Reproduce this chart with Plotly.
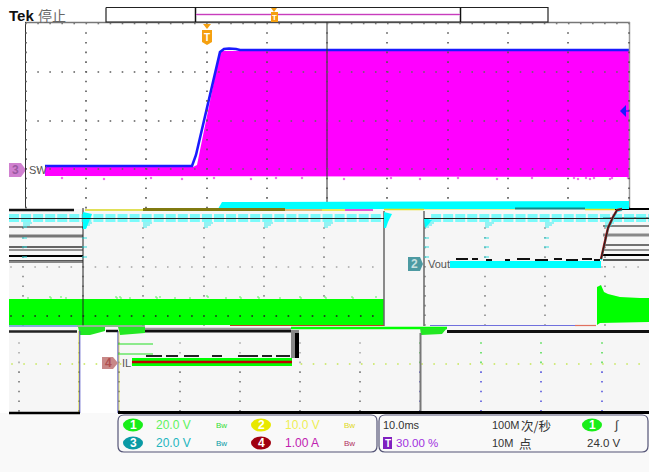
import numpy as np
import plotly.graph_objects as go

# ---- Data (screen-scaled scope coordinates) ----
sw_fill_x = [45, 193, 197, 220, 222, 629, 629, 45]
sw_fill_y = [167, 167, 165, 52, 51, 51, 177, 176]
sw_edge_x = [45, 192, 196, 220, 224, 229, 236, 240, 300, 629]
sw_edge_y = [166, 166, 155, 52, 49, 48.5, 49, 50, 50, 50]
sw_spike_x = [62, 104, 151, 182, 214, 251, 276, 302, 344, 391, 420, 458, 497, 532, 574, 578, 586, 590, 594, 610, 612, 628]
sw_spike_y = [178, 179, 178, 179, 178, 179, 178, 178, 179, 178, 179, 178, 179, 178, 178, 179, 178, 179, 178, 179, 178, 178]

cyan_top_x = [218, 222, 629, 629, 218]
cyan_top_y = [209, 202, 201, 209, 209]
cyan_vout_x = [450, 601, 601, 450]
cyan_vout_y = [261, 261, 268, 268]
vout_noise_x = [456, 468, None, 472, 478, None, 486, 492, None, 505, 510, None, 517, 530, None, 535, 548, None, 554, 562, None, 566, 578, None, 582, 592, None, 594, 600]
vout_noise_y = [259, 259, None, 259, 259, None, 260, 260, None, 260, 260, None, 259, 259, None, 260, 260, None, 259, 259, None, 260, 260, None, 259, 259, None, 260, 260]
ramp_x = [601, 608, 613, 617, 622]
ramp_y = [259, 228, 217, 210, 209]

green_band_x = [9, 384, 384, 9]
green_band_y = [299, 299, 325, 325]
green_spike_x = [28, 50, 51, 61, 66, 116, 117, 120, 121, 130, 156, 157, 160, 175, 190, 207, 208, 226, 240, 241, 258, 259, 280, 300, 301, 325, 326, 352, 353, 376]
green_spike_h = [298, 297, 298, 297, 298, 297, 298, 297, 298, 298, 297, 298, 297, 298, 298, 296, 297, 298, 297, 298, 297, 298, 298, 297, 298, 297, 298, 297, 298, 297]
green_tail_x = [597, 597, 601, 604, 608, 620, 640, 649, 649, 600]
green_tail_y = [325, 287, 285, 292, 294, 297, 298, 298, 322, 323]

il_x = [132, 292]
il_top = [358, 358]
il_bottom = [366, 366]
il_center = [362, 362]
il_noise_x = [146, 162, None, 166, 178, None, 184, 199, None, 212, 222, None, 238, 258, None, 262, 272, None, 276, 290]
il_noise_y = [356, 356, None, 356, 356, None, 356, 356, None, 356, 356, None, 356, 356, None, 356, 356, None, 356, 356]

left_levels = [227, 236, 247, 250, 256, 261, 262]
left_widths = [1, 3, 1.5, 1, 2, 1.5, 2]
left_colors = ["#111", "#777", "#333", "#333", "#000", "#222", "#888"]
right_levels = [209, 218, 226, 235, 245, 250, 255, 260]
right_widths = [2, 1, 1, 3, 1.5, 1, 2, 1.5]
right_colors = ["#000", "#222", "#111", "#888", "#444", "#333", "#000", "#222"]

# Grid positions of the three zones
mid_grid_x = [23, 83, 143, 204, 264, 324, 384, 425, 485, 545, 605]
low_grid_x = [19, 79, 119, 180, 240, 300, 360, 420, 481, 541, 602]

# Read-out text
readout_left = [("20.0 V", 173, 425, "#5ef25e"), ("10.0 V", 302, 425, "#eeee55"),
                ("20.0 V", 173, 443, "#22b5c0"), ("1.00 A", 302, 443, "#c020b0")]
chips = [("1", 133, 425, "#19ee19"), ("2", 261, 425, "#e8e800"),
         ("3", 133, 443, "#0a9aa5"), ("4", 261, 443, "#a00010")]
bw_marks = [(221, 425, "#33dd33"), (349, 425, "#e0d820"),
            (221, 443, "#0a9aa5"), (349, 443, "#b03060")]

SCREEN = "#f6f6f6"
MAG = "#ff00ff"
GREEN = "#00ff00"
CYAN = "#00ffff"
fig = go.Figure()

def poly(x, y, c):
    fig.add_trace(go.Scatter(x=x, y=y, fill="toself", fillcolor=c, mode="lines",
                             line=dict(width=0, color=c), hoverinfo="skip"))

def line(x, y, c, w=1):
    fig.add_trace(go.Scatter(x=x, y=y, mode="lines", line=dict(color=c, width=w), hoverinfo="skip"))

def dots(x, y, c, s=1.6):
    fig.add_trace(go.Scatter(x=list(x), y=list(y), mode="markers",
                             marker=dict(color=c, size=s, symbol="square", line=dict(width=0)), hoverinfo="skip"))

# page colour below the screen + screen panels
poly([0, 649, 649, 0], [413, 413, 472, 472], "#f9f9f9")
poly([9, 649, 649, 9], [209, 209, 331, 331], SCREEN)
poly([9, 79, 79, 9], [331, 331, 413, 413], SCREEN)
poly([118, 649, 649, 118], [331, 331, 413, 413], SCREEN)

# SW trace first so the graticule lies over it
dots(sw_spike_x, sw_spike_y, "#f070f0", 2.2)
poly(sw_fill_x, sw_fill_y, MAG)
line(sw_edge_x, sw_edge_y, "#1a1aff", 2.6)

# upper frame and graticule
line([25, 630], [22.5, 22.5], "#777", 1.5)
line([25.5, 25.5], [22, 208], "#333", 1)
line([629.5, 629.5], [22, 208], "#999", 1.5)
line([327, 327], [22, 208], "#333", 1)
ux = [26, 86, 146, 207, 267, 327, 387, 448, 508, 568, 629]
uy = [72, 121, 169]
ru = np.arange(33, 208, 9.7)
for gx in ux:
    dots([gx] * len(ru), ru, "#555")
rh = np.arange(26, 630, 12.06)
for gy in uy:
    dots(rh, [gy] * len(rh), "#666")
dots(rh, [23.5] * len(rh), "#777")

# lower graticule
for gx in mid_grid_x:
    if gx != 384:
        rv = np.arange(228, 326, 9.7)
        dots([gx] * len(rv), rv, "#888")
rv = np.arange(343, 413, 9.7)
for gx in low_grid_x:
    up = [v for v in rv if v < 365]
    dn = [v for v in rv if v >= 365]
    dots([gx] * len(up), up, "#55dd55" if gx > 400 else "#aaa")
    dots([gx] * len(dn), dn, "#5555dd" if gx > 400 else "#777")
rr = np.arange(11, 649, 12.06)
dots(rr, [267] * len(rr), "#aaa")

# green band and tail
dots(green_spike_x, green_spike_h, "#77ee77", 1.6)
poly(green_band_x, green_band_y, GREEN)
poly(green_tail_x, green_tail_y, GREEN)
rg = np.arange(11, 384, 12.06)
dots(rg, [316] * len(rg), "#222")
rg2 = [v for v in np.arange(12, 649, 12.06)]
dots(rg2, [364] * len(rg2), "#c8e860")

# box at 384-424
poly([384, 424, 424, 384], [211, 211, 326, 326], SCREEN)
line([384, 384], [211, 326], "#666", 1.5)
line([424, 424], [211, 326], "#666", 1.5)

# left/right multi-level black lines
for lv, w, c in zip(left_levels, left_widths, left_colors):
    line([9, 83], [lv, lv], c, w)
for lv, w, c in zip(right_levels, right_widths, right_colors):
    line([603, 649], [lv, lv], c, w)
line([83, 83], [208, 325], "#222", 1)

# cyan dash rows
for gy in [215, 217, 219, 221]:
    for sx in np.arange(9, 649, 12.06):
        if 380 <= sx <= 424:
            continue
        line([sx, sx + 10], [gy, gy], CYAN, 1)
for gx in mid_grid_x:
    if gx == 384:
        continue
    for gy, ext in [(223, 9), (225, 7), (227, 4)]:
        line([gx, gx + ext], [gy, gy], "#33eeee", 1)
for gx in [23, 83, 425, 485, 545]:
    for gy in [238, 247, 257]:
        if gx != 545 or gy < 250:
            line([gx - 1, gx + 4], [gy, gy], "#33dddd", 1)
poly([83, 92, 88, 86, 83], [212, 214, 224, 229, 229], CYAN)
poly([384, 392, 388, 386, 384], [212, 214, 222, 228, 228], CYAN)
poly([424, 432, 428, 425], [218, 220, 225, 228], CYAN)
line([9, 384, None, 424, 649], [218.5, 218.5, None, 218.5, 218.5], "#222", 1)

# top traces
poly(cyan_top_x, cyan_top_y, CYAN)
line([9, 74], [210, 210], "#111", 2.5)
line([85, 143], [210, 210], "#d8d820", 1.5)
line([143, 285], [209.5, 209.5], "#807a10", 3)
line([285, 322], [210, 210], "#d8a040", 1.5)
line([322, 345], [210, 210], "#e8e020", 1.5)
line([345, 373], [210, 210], "#e020c8", 1.5)
line([384, 424], [209.5, 209.5], "#e8e020", 1.5)
line([424, 515], [209.5, 209.5], "#eeee99", 1)
line([515, 585], [208.5, 208.5], "#108888", 2)
line([585, 615], [209.5, 209.5], "#e8e020", 1.5)
line(ramp_x, [v + 1 for v in ramp_y], CYAN, 2)
line(ramp_x, ramp_y, "#c02020", 2.4)
line(ramp_x, ramp_y, "#222", 1.2)

# Vout plateau
poly(cyan_vout_x, cyan_vout_y, CYAN)
line(vout_noise_x, vout_noise_y, "#111", 2)

# stripes and bottom traces
line([9, 77], [326, 326], "#6090d0", 1.5)
line([77, 145], [326, 326], "#70a070", 1.5)
line([230, 384], [325.5, 325.5], "#c04020", 1.2)
line([430, 575], [325.5, 325.5], "#7070dd", 1.2)
line([575, 596], [325.5, 325.5], "#e07060", 1.2)
poly([78, 105, 105, 90, 80], [327, 327, 331, 335, 335], "#22e822")
line([106, 118], [331, 331], "#111", 2.5)
poly([118, 145, 145, 120], [327, 327, 333, 335], "#22e822")
line([145, 291], [331, 331], "#111", 3)
line([145, 291], [328.5, 328.5], "#999", 1.5)
line([291, 447], [328, 328], GREEN, 2.5)
poly([420, 447, 442, 421], [328, 328, 334, 335], "#22e822")
line([447, 649], [331.5, 331.5], "#111", 3)
line([9, 77], [331.5, 331.5], "#222", 2.5)
line([79, 79], [331, 413], "#d8d820", 1)
line([79.8, 79.8], [331, 413], "#4040c0", 1)
line([9, 80], [413, 413], "#000", 2.5)
line([118, 118], [331, 413], "#3535b0", 1)
line([119, 119], [331, 413], "#d8d820", 0.6)
line([420.5, 420.5], [333, 413], "#777", 2)
line([118, 649], [412.5, 412.5], "#000", 3)
line([118, 153], [344, 344], "#22dd22", 1.2)
line([118, 153], [354, 354], "#22dd22", 1.2)
line([295, 295], [330, 358], "#888", 8)
line([297, 297], [333, 358], "#000", 4)
poly([132, 292, 292, 132], [il_top[0], il_top[1], il_bottom[1], il_bottom[0]], GREEN)
line(il_x, il_center, "#c00000", 2.5)
line(il_noise_x, il_noise_y, "#222", 2)

# top indicator bar
line([106, 548, 548, 106, 106], [7.5, 7.5, 22, 22, 7.5], "#222", 1.2)
line([195.5, 195.5], [7.5, 22], "#111", 1.5)
line([460.5, 460.5], [7.5, 22], "#111", 1.5)
line([196, 460], [14.5, 14.5], "#e8b0e8", 2.2)
line([196, 460], [14.5, 14.5], "#c020b0", 0.8)

# trigger markers
poly([202, 212, 212, 207, 202], [30, 30, 42, 45, 42], "#f5a010")
poly([203, 211, 207], [24, 24, 29], "#f5a010")
poly([271, 278, 278, 271], [12, 12, 22, 22], "#f5a010")
poly([271, 277, 274], [8, 8, 12], "#f5a010")
poly([620, 626, 626], [111, 105, 117], "#1a1aff")
line([624, 629], [111, 111], "#1a1aff", 1.2)

# badges
poly([9, 21, 26, 21, 9], [163, 163, 170, 177, 177], "#d080d0")
line([25.5, 25.5], [158, 182], "#333", 1)
poly([102, 113, 118, 113, 102], [357, 357, 363, 369, 369], "#c88888")
poly([408, 420, 423, 420, 408], [257, 257, 264, 271, 271], "#4d9aa2")

def rbox(x0, x1, y0, y1, r):
    return (f"M{x0+r},{y0} L{x1-r},{y0} Q{x1},{y0} {x1},{y0+r} L{x1},{y1-r} Q{x1},{y1} {x1-r},{y1} "
            f"L{x0+r},{y1} Q{x0},{y1} {x0},{y1-r} L{x0},{y0+r} Q{x0},{y0} {x0+r},{y0} Z")

shapes = []
for t, cx, cy, col in chips + [("1", 592, 425, "#19ee19")]:
    shapes.append(dict(type="circle", x0=cx - 10, x1=cx + 10, y0=cy - 6.5, y1=cy + 6.5,
                       fillcolor=col, line=dict(width=0), layer="above"))
shapes.append(dict(type="path", path=rbox(118, 377, 415, 452, 6), line=dict(color="#555577", width=1.2), layer="above"))
shapes.append(dict(type="path", path=rbox(379, 648, 415, 452, 6), line=dict(color="#555577", width=1.2), layer="above"))
shapes.append(dict(type="rect", x0=383, x1=392, y0=437, y1=449, fillcolor="#8020c0", line=dict(width=0), layer="above"))

SANS = "Liberation Sans"
CJK = "Noto Sans CJK SC"
ann = []
def txt(s, x, y, c="#333", size=11, font=SANS, anchor="left", bold=False):
    ann.append(dict(x=x, y=y, text=s, showarrow=False, xanchor=anchor, yanchor="middle",
                    font=dict(family=font, size=size, color=c, weight=700 if bold else 400),
                    xref="x", yref="y"))

txt("Tek", 7, 15, "#111", 15, SANS, bold=True)
txt("停止", 36, 15, "#666", 14, CJK)
txt("T", 207, 37, "#fff", 10, SANS, "center", True)
txt("T", 274.5, 17, "#fff", 8, SANS, "center", True)
txt("3", 15.5, 170, "#9a5aa0", 12, SANS, "center", True)
txt("SW", 27, 170, "#555", 11)
txt("2", 414, 264, "#c8e0e0", 12, SANS, "center", True)
txt("Vout", 426, 264, "#555", 11)
txt("4", 108, 363, "#b05050", 12, SANS, "center", True)
txt("IL", 120, 363, "#555", 11)
for t, cx, cy, col in chips + [("1", 592, 425, "#19ee19")]:
    txt(t, cx, cy, "#fff", 12, SANS, "center", True)
for s, x, y, c in readout_left:
    txt(s, x, y, c, 12, SANS, "center")
for x, y, c in bw_marks:
    txt("Bw", x, y, c, 8, SANS, "center")
txt("10.0ms", 381, 425, "#333", 11)
txt("T", 387.5, 443, "#fff", 10, SANS, "center", True)
txt("30.00 %", 394, 443, "#a030e0", 11.5)
txt("100M", 490, 425, "#333", 11)
txt("次/秒", 519, 425, "#333", 12.5, CJK)
txt("10M", 490, 443, "#333", 11)
txt("点", 517, 443, "#333", 12.5, CJK)
txt("∫", 612, 425, "#333", 12)
txt("24.0 V", 585, 443, "#333", 11.5)

fig.update_layout(
    width=649, height=472, margin=dict(l=0, r=0, t=0, b=0), showlegend=False,
    paper_bgcolor="#ffffff", plot_bgcolor="#ffffff",
    xaxis=dict(range=[0, 649], visible=False, fixedrange=True),
    yaxis=dict(range=[472, 0], visible=False, fixedrange=True),
    shapes=shapes, annotations=ann,
)
fig.write_html("out.html", config={"displayModeBar": False},
               post_script="document.body.style.margin='0';document.body.style.overflow='hidden';")
